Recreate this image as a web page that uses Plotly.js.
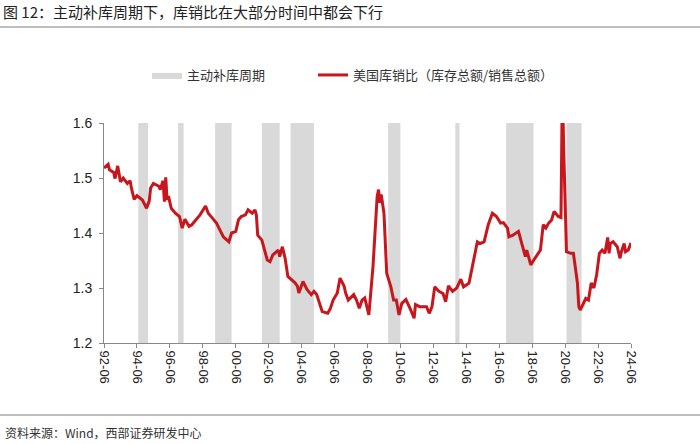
<!DOCTYPE html>
<html>
<head>
<meta charset="utf-8">
<script src="https://cdn.plot.ly/plotly-3.0.1.min.js"></script>
<style>html,body{margin:0;padding:0;background:#fff;}#chart{width:700px;height:444px;}</style>
</head>
<body>
<div id="chart"></div>
<script>
// ---- data ----
const dates = [
'1992-06','1992-09','1992-10','1993-01','1993-02','1993-04','1993-06','1993-08','1993-11','1994-01',
'1994-02','1994-04','1994-06','1994-10','1995-01','1995-03','1995-04','1995-06','1995-10','1995-11',
'1996-01','1996-02','1996-03','1996-04','1996-05','1996-07','1996-10','1997-01','1997-03','1997-05',
'1997-08','1997-10','1998-01','1998-04','1998-08','1998-10','1999-01','1999-04','1999-07','1999-09',
'2000-01','2000-03','2000-06','2000-08','2000-10','2001-01','2001-03','2001-06','2001-08','2001-09',
'2001-10','2002-01','2002-05','2002-07','2002-09','2003-01','2003-02','2003-04','2003-06','2003-08',
'2004-01','2004-03','2004-04','2004-07','2004-10','2005-01','2005-03','2005-05','2005-09','2006-01',
'2006-03','2006-05','2006-08','2006-10','2007-01','2007-02','2007-04','2007-08','2007-10','2007-12',
'2008-02','2008-04','2008-07','2008-10','2009-01','2009-02','2009-03','2009-04','2009-06','2009-07',
'2009-08','2009-11','2010-01','2010-03','2010-05','2010-07','2010-10','2011-01','2011-04','2011-05',
'2011-08','2012-01','2012-03','2012-05','2012-07','2012-10','2013-01','2013-03','2013-05','2013-08',
'2013-11','2014-02','2014-04','2014-08','2014-11','2015-02','2015-04','2015-07','2015-10','2016-01',
'2016-04','2016-07','2016-09','2016-12','2017-01','2017-04','2017-08','2017-11','2018-01','2018-02',
'2018-05','2018-08','2018-12','2019-02','2019-04','2019-06','2019-08','2019-10','2020-01','2020-03',
'2020-04','2020-05','2020-07','2020-10','2020-12','2021-01','2021-03','2021-04','2021-05','2021-07',
'2021-09','2021-11','2022-01','2022-03','2022-05','2022-07','2022-09','2022-11','2023-01','2023-02',
'2023-03','2023-05','2023-08','2023-10','2023-11','2024-01','2024-02','2024-04','2024-06'
];
const ratio = [
1.518,1.525,1.515,1.510,1.499,1.522,1.493,1.500,1.490,1.495,
1.481,1.461,1.468,1.460,1.445,1.458,1.482,1.490,1.485,1.479,
1.495,1.457,1.501,1.460,1.467,1.445,1.436,1.430,1.409,1.425,
1.412,1.415,1.424,1.433,1.449,1.436,1.427,1.418,1.403,1.393,
1.384,1.400,1.403,1.424,1.430,1.433,1.442,1.436,1.442,1.433,
1.396,1.387,1.351,1.348,1.360,1.369,1.357,1.375,1.354,1.321,
1.310,1.303,1.291,1.312,1.297,1.288,1.294,1.288,1.257,1.254,
1.263,1.278,1.291,1.318,1.303,1.291,1.278,1.288,1.278,1.263,
1.278,1.282,1.251,1.339,1.466,1.479,1.455,1.470,1.436,1.381,
1.327,1.302,1.278,1.278,1.251,1.272,1.279,1.263,1.245,1.270,
1.266,1.266,1.254,1.266,1.302,1.294,1.290,1.275,1.304,1.294,
1.300,1.316,1.302,1.309,1.345,1.384,1.381,1.384,1.415,1.436,
1.430,1.418,1.419,1.409,1.393,1.396,1.403,1.375,1.357,1.369,
1.342,1.354,1.369,1.415,1.409,1.418,1.423,1.439,1.430,1.428,
1.670,1.550,1.366,1.363,1.363,1.345,1.309,1.266,1.260,1.270,
1.281,1.278,1.309,1.300,1.324,1.363,1.369,1.363,1.392,1.363,
1.381,1.384,1.375,1.354,1.366,1.381,1.366,1.369,1.382
];
// active restocking cycles (start, end)
const cycleStart = ['1994-07','1996-12','1999-03','2002-01','2003-10','2009-09','2013-10','2016-11','2020-07'];
const cycleEnd   = ['1995-02','1997-04','2000-03','2003-02','2005-03','2010-06','2014-01','2018-07','2021-06'];
const yTicks = [1.2, 1.3, 1.4, 1.5, 1.6];
const xTicks = ['1992-06','1994-06','1996-06','1998-06','2000-06','2002-06','2004-06','2006-06',
                '2008-06','2010-06','2012-06','2014-06','2016-06','2018-06','2020-06','2022-06','2024-06'];
const seriesNames = ['主动补库周期', '美国库销比（库存总额/销售总额）'];
const titleText = '图 12：主动补库周期下，库销比在大部分时间中都会下行';
const sourceText = '资料来源：Wind，西部证券研发中心';

// ---- build shading polygons ----
const yLo = yTicks[0], yHi = yTicks[yTicks.length - 1];
const shadeX = [], shadeY = [];
cycleStart.forEach((s, i) => {
  const e = cycleEnd[i];
  shadeX.push(s, s, e, e, s, null);
  shadeY.push(yLo, yHi, yHi, yLo, yLo, null);
});

const cjk = '"Noto Sans CJK SC", "Noto Sans", sans-serif';
const latin = '"Liberation Sans", Arial, sans-serif';

const traces = [
  {
    type: 'scatter', mode: 'lines', x: shadeX, y: shadeY,
    fill: 'toself', fillcolor: '#D9D9D9', line: {width: 0, color: '#D9D9D9'},
    name: seriesNames[0], hoverinfo: 'skip', connectgaps: false, legend: 'legend'
  },
  {
    type: 'scatter', mode: 'lines', x: dates, y: ratio,
    line: {color: '#C8161D', width: 3},
    name: seriesNames[1], legend: 'legend2'
  }
];

// plot area geometry in px (used to place paper-ref decorations)
const W = 700, H = 444, L = 104, R = 69, T = 123, B = 101;
const pw = W - L - R, ph = H - T - B;
const px = x => (x - L) / pw;
const py = y => (H - B - y) / ph;

const legendFont = {family: cjk, size: 13, color: '#333'};

const layout = {
  width: W, height: H,
  margin: {l: L, r: R, t: T, b: B, pad: 0},
  paper_bgcolor: '#fff', plot_bgcolor: '#fff',
  font: {family: latin, color: '#1a1a1a', size: 13},
  title: {
    text: titleText, font: {family: cjk, size: 15, color: '#222'},
    xref: 'container', yref: 'container', x: 3 / W, xanchor: 'left',
    y: 1 - 13 / H, yanchor: 'middle'
  },
  showlegend: true,
  legend: {
    orientation: 'h', x: px(147), xanchor: 'left', y: py(75), yanchor: 'middle',
    font: legendFont, bgcolor: 'rgba(0,0,0,0)', itemwidth: 30
  },
  legend2: {
    orientation: 'h', x: px(313), xanchor: 'left', y: py(75), yanchor: 'middle',
    font: legendFont, bgcolor: 'rgba(0,0,0,0)', itemwidth: 30
  },
  xaxis: {
    type: 'date', range: ['1992-06-01', '2024-06-01'],
    tickmode: 'array', tickvals: xTicks, tickformat: '%y-%m', tickangle: 90,
    ticks: 'outside', ticklen: 4, tickcolor: '#888', showline: true, linecolor: '#888', linewidth: 1,
    showgrid: false, zeroline: false, tickfont: {family: latin, size: 13, color: '#222'}
  },
  yaxis: {
    range: [yLo, yHi], tickmode: 'array', tickvals: yTicks, tickformat: '.1f',
    ticks: 'outside', ticklen: 4, tickcolor: '#888', showline: true, linecolor: '#888', linewidth: 1,
    showgrid: false, zeroline: false, ticklabelstandoff: 4,
    tickfont: {family: latin, size: 14, color: '#222'}
  },
  shapes: [
    {type: 'line', xref: 'paper', yref: 'paper', x0: px(0), x1: px(W), y0: py(27), y1: py(27),
     line: {color: '#7f7f7f', width: 1.2}},
    {type: 'line', xref: 'paper', yref: 'paper', x0: px(0), x1: px(W), y0: py(415), y1: py(415),
     line: {color: '#7f7f7f', width: 1.2}}
  ],
  annotations: [
    {text: sourceText, xref: 'paper', yref: 'paper', x: px(3), y: py(432),
     xanchor: 'left', yanchor: 'middle', showarrow: false,
     font: {family: cjk, size: 12, color: '#333'}}
  ]
};

Plotly.newPlot('chart', traces, layout, {displayModeBar: false, staticPlot: true});
</script>
</body>
</html>
